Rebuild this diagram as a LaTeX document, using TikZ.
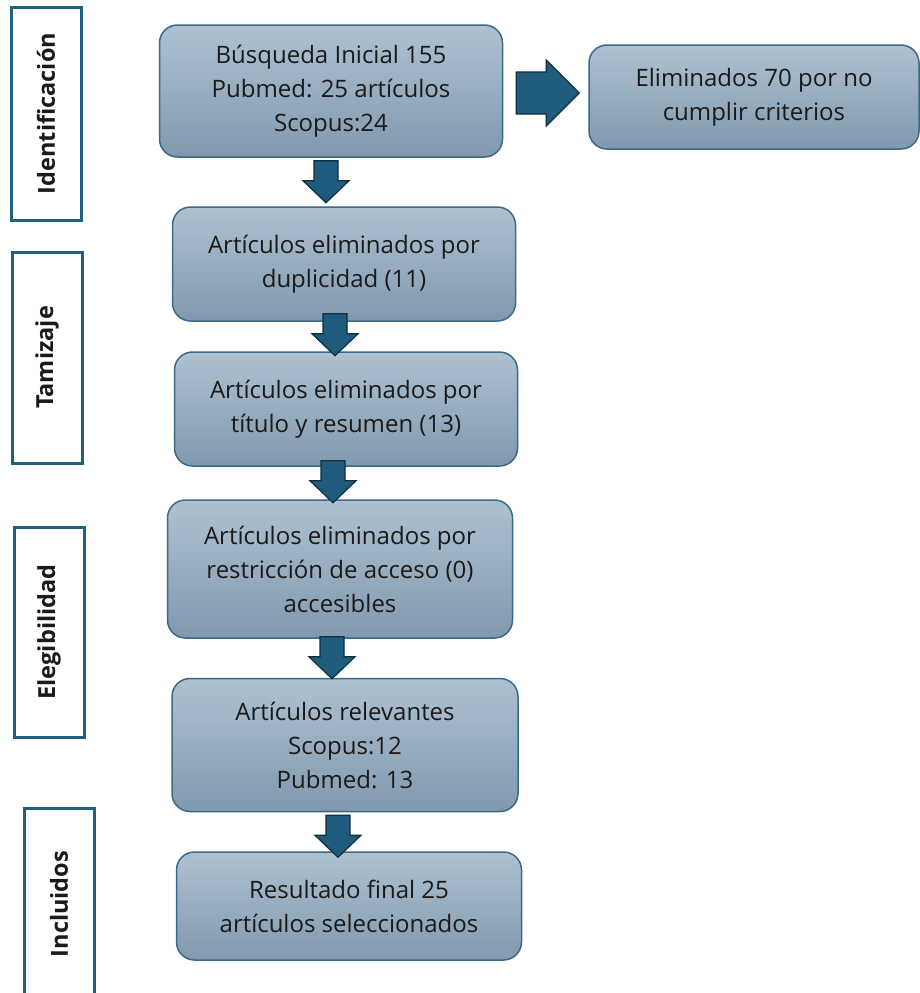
\documentclass[tikz,border=0pt]{standalone}
\usepackage{fontspec}
\setmainfont{Open Sans}
\usetikzlibrary{calc}
\definecolor{boxtop}{HTML}{AEC1D1}
\definecolor{boxbot}{HTML}{8199AE}
\definecolor{boxline}{HTML}{3A6A86}
\definecolor{arrfill}{HTML}{1E5B7C}
\definecolor{arrline}{HTML}{0F2E3F}
\definecolor{lblline}{HTML}{1F5F7F}
\definecolor{txt}{HTML}{1A1A1A}
\tikzset{
  stagebox/.style={draw=boxline, line width=1.5pt, rounded corners=18pt,
    top color=boxtop, bottom color=boxbot, align=center, text=txt,
    font=\fontsize{24}{34}\selectfont, inner sep=0pt},
  lblbox/.style={draw=lblline, line width=3pt, fill=white, inner sep=0pt},
  lbltext/.style={rotate=90, font=\fontsize{23.5}{26}\selectfont\bfseries, text=txt},
  blockarr/.style={fill=arrfill, draw=arrline, line width=1.2pt, line join=miter},
  pics/downarr/.style={code={
    \draw[blockarr] (-12,0) -- (12,0) -- (12,20) -- (23,20) -- (0,42) -- (-23,20) -- (-12,20) -- cycle;}}
}
\begin{document}
\begin{tikzpicture}[x=1pt,y=-1pt]
\useasboundingbox (0,0) rectangle (920,993);
% stage boxes
\node[stagebox, minimum width=343pt, minimum height=132pt] (b1) at (331,91) {Búsqueda Inicial 155\\Pubmed: 25 artículos\\Scopus:24};
\node[stagebox, minimum width=343pt, minimum height=114pt] (b2) at (344,264) {Artículos eliminados por\\duplicidad (11)};
\node[stagebox, minimum width=343pt, minimum height=114pt] (b3) at (346,409) {Artículos eliminados por\\título y resumen (13)};
\node[stagebox, minimum width=345pt, minimum height=138pt] (b4) at (340,569) {Artículos eliminados por\\restricción de acceso (0)\\accesibles};
\node[stagebox, minimum width=346pt, minimum height=133pt] (b5) at (345,745) {Artículos relevantes\\Scopus:12\\Pubmed: 13};
\node[stagebox, minimum width=345pt, minimum height=108pt] (b6) at (349,906) {Resultado final 25\\artículos seleccionados};
\node[stagebox, minimum width=330pt, minimum height=104pt] (r1) at (754,97) {Eliminados 70 por no\\cumplir criterios};
% label boxes
\node[lblbox, minimum width=70pt, minimum height=213pt] (l1) at (46,113.5) {};
\node[lbltext] (t1) at (l1.center) {Identificación};
\node[lblbox, minimum width=70pt, minimum height=211pt] (l2) at (47,357.5) {};
\node[lbltext] (t2) at (l2.center) {Tamizaje};
\node[lblbox, minimum width=70pt, minimum height=210pt] (l3) at (49,632) {};
\node[lbltext] (t3) at (l3.center) {Elegibilidad};
\node[lblbox, minimum width=70pt, minimum height=196pt] (l4) at (59,906) {};
\node[lbltext] (t4) at (59,904) {Incluidos};
% down arrows
\pic at ($(b1.south)+(-5,3)$) {downarr};
\pic at ($(b2.south)+(-9,-8)$) {downarr};
\pic at ($(b3.south)+(-13,-6)$) {downarr};
\pic at ($(b4.south)+(-8,-2)$) {downarr};
\pic at ($(b5.south)+(-7,3)$) {downarr};
% right arrow
\draw[blockarr] ($(b1.east)+(13,-19)$) -- ++(30,0) -- ++(0,-12) -- ++(33,33) -- ++(-33,33) -- ++(0,-12) -- ++(-30,0) -- cycle;
\end{tikzpicture}
\end{document}
